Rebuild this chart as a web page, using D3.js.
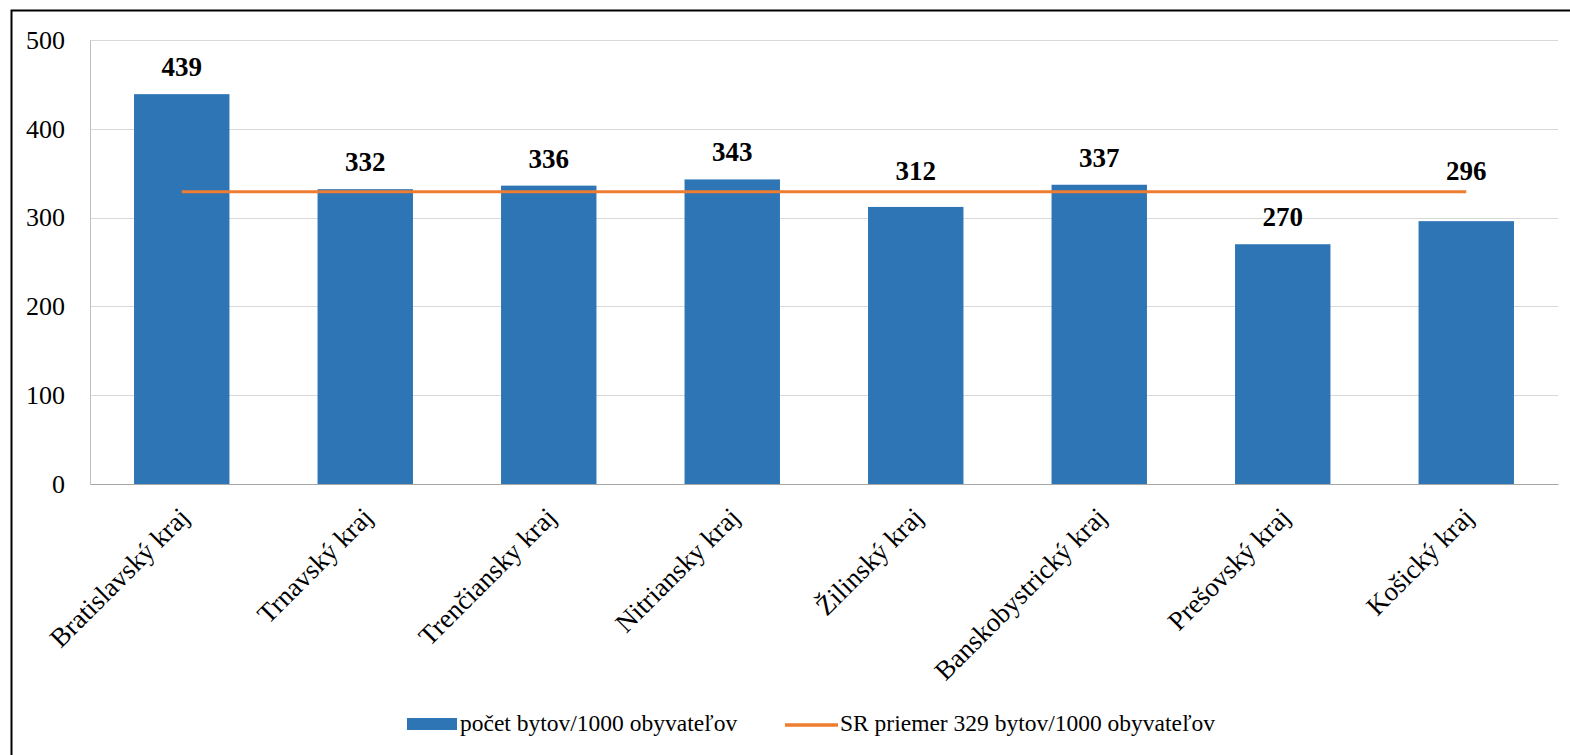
<!DOCTYPE html>
<html>
<head>
<meta charset="utf-8">
<script src="https://cdn.jsdelivr.net/npm/d3@7"></script>
<style>
  html, body { margin: 0; padding: 0; background: #fff; }
  svg { display: block; }
  text { font-family: "Liberation Serif", "Times New Roman", serif; fill: #000; }
</style>
</head>
<body>
<svg id="chart" width="1570" height="755"></svg>
<script>
// Housing stock per 1000 inhabitants by region
const regions = ["Bratislavský kraj", "Trnavský kraj", "Trenčiansky kraj", "Nitriansky kraj",
                 "Žilinský kraj", "Banskobystrický kraj", "Prešovský kraj", "Košický kraj"];
const dwellings = [439, 332, 336, 343, 312, 337, 270, 296];
const nationalAverage = 329;
const yTicks = [0, 100, 200, 300, 400, 500];
const legendLabels = ["počet bytov/1000 obyvateľov", "SR priemer 329 bytov/1000 obyvateľov"];

const BAR = "#2E75B6", LINE = "#ED7D31";
const SERIF = "Liberation Serif";
const TICK_FONT = 26, VALUE_FONT = 27, CAT_FONT = 27, LEGEND_FONT = 23.5;

const svg = d3.select("#chart");
const plot = { left: 90, right: 1558, top: 40, bottom: 484 };

// outer frame
svg.append("rect")
  .attr("x", 11.5).attr("y", 10.5)
  .attr("width", 1600).attr("height", 800)
  .attr("fill", "none").attr("stroke", "#000").attr("stroke-width", 2);

const x = d3.scaleBand().domain(regions).range([plot.left, plot.right]).paddingInner(0.48).paddingOuter(0.24);
const y = d3.scaleLinear().domain([0, 500]).range([plot.bottom, plot.top]);
const mid = d => x(d) + x.bandwidth() / 2;

// gridlines
svg.append("g")
  .selectAll("line")
  .data(yTicks.filter(d => d > 0))
  .join("line")
  .attr("x1", plot.left).attr("x2", plot.right)
  .attr("y1", d => Math.round(y(d)) + 0.5).attr("y2", d => Math.round(y(d)) + 0.5)
  .attr("stroke", "#d9d9d9").attr("stroke-width", 1);

// y axis
const yAxis = svg.append("g")
  .attr("transform", `translate(${plot.left},0)`)
  .call(d3.axisLeft(y).tickValues(yTicks).tickSize(0).tickPadding(25));
yAxis.attr("font-family", null);
yAxis.select(".domain").attr("stroke", "#bfbfbf").attr("stroke-width", 1);
yAxis.selectAll("text").style("font-size", TICK_FONT + "px").style("font-family", SERIF);

// bars
svg.append("g")
  .selectAll("rect")
  .data(regions)
  .join("rect")
  .attr("x", d => x(d))
  .attr("y", (d, i) => y(dwellings[i]))
  .attr("width", x.bandwidth())
  .attr("height", (d, i) => y(0) - y(dwellings[i]))
  .attr("fill", BAR);

// x axis
const xAxis = svg.append("g")
  .attr("transform", `translate(0,${plot.bottom})`)
  .call(d3.axisBottom(x).tickSize(0).tickFormat(""));
xAxis.select(".domain").attr("stroke", "#a6a6a6").attr("stroke-width", 1.2);

// rotated category labels
svg.append("g")
  .selectAll("text")
  .data(regions)
  .join("text")
  .attr("transform", d => `translate(${mid(d) + 9},${plot.bottom + 35}) rotate(-45)`)
  .attr("text-anchor", "end")
  .style("font-family", SERIF)
  .style("font-size", CAT_FONT + "px")
  .text(d => d);

// national average line
const avgY = y(nationalAverage);
svg.append("line")
  .attr("x1", mid(regions[0])).attr("x2", mid(regions[regions.length - 1]))
  .attr("y1", avgY).attr("y2", avgY)
  .attr("stroke", LINE).attr("stroke-width", 3);

// value labels: above the bar, lifted over the average line when they would cross it
const labelY = v => {
  const base = y(v) - 18;
  const top = base - VALUE_FONT * 0.68;
  return (base + 4 > avgY && top < avgY) ? avgY - 12 : base;
};
svg.append("g")
  .selectAll("text")
  .data(regions)
  .join("text")
  .attr("x", d => mid(d))
  .attr("y", (d, i) => labelY(dwellings[i]))
  .attr("text-anchor", "middle")
  .style("font-family", SERIF)
  .style("font-size", VALUE_FONT + "px")
  .style("font-weight", "bold")
  .text((d, i) => dwellings[i]);

// legend
const legend = svg.append("g").style("font-family", SERIF).style("font-size", LEGEND_FONT + "px");
legend.append("rect").attr("x", 407).attr("y", 718).attr("width", 50).attr("height", 12).attr("fill", BAR);
legend.append("text").attr("x", 460).attr("y", 731).text(legendLabels[0]);
legend.append("line").attr("x1", 785).attr("x2", 838).attr("y1", 725).attr("y2", 725)
  .attr("stroke", LINE).attr("stroke-width", 3.5);
legend.append("text").attr("x", 840).attr("y", 731).text(legendLabels[1]);
</script>
</body>
</html>
